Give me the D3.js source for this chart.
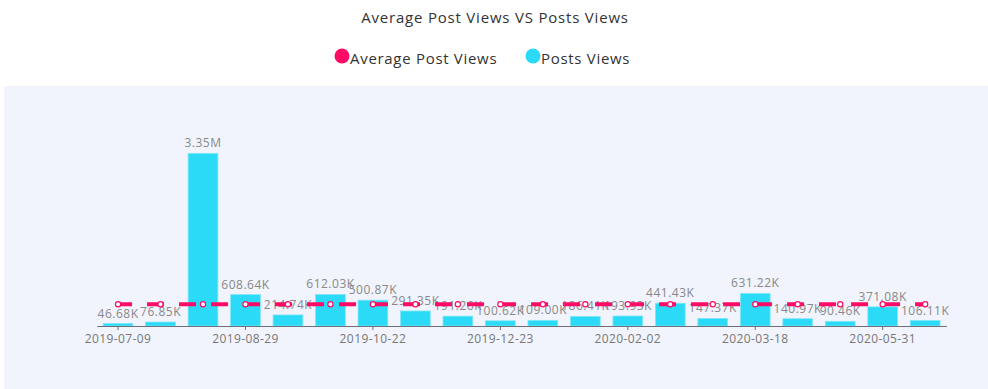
<!DOCTYPE html>
<html>
<head>
<meta charset="utf-8">
<script src="https://cdn.jsdelivr.net/npm/d3@7"></script>
<style>
html,body{margin:0;padding:0;background:#fff;}
svg{display:block;font-family:"Open Sans", Lato, sans-serif;}
</style>
</head>
<body>
<svg id="chart" width="988" height="389"></svg>
<script>
const categories = ["2019-07-09","2019-07-26","2019-08-12","2019-08-29","2019-09-16","2019-10-04","2019-10-22","2019-11-11","2019-12-02","2019-12-23","2020-01-06","2020-01-20","2020-02-02","2020-02-17","2020-03-03","2020-03-18","2020-04-11","2020-05-06","2020-05-31","2020-06-20"];
const postsViews = [46680,76850,3350000,608640,214740,612030,500870,291350,191260,100620,109000,186410,193930,441430,147370,631220,140970,90460,371080,106110];
const averageViews = [420550,420550,420550,420550,420550,420550,420550,420550,420550,420550,420550,420550,420550,420550,420550,420550,420550,420550,420550,420550];
const tickLabels = ["2019-07-09","2019-08-29","2019-10-22","2019-12-23","2020-02-02","2020-03-18","2020-05-31"];
const seriesNames = ["Average Post Views","Posts Views"];
const colors = ["#ff0a64","#2bdaf6"];

const svg = d3.select("#chart");
const W = 988, H = 389;
const FONT = "'Open Sans', Lato, sans-serif";

// panel background
svg.append("rect").attr("x",4).attr("y",86).attr("width",W-4).attr("height",H-86).attr("fill","#f1f4fc");

// title
svg.append("text").attr("x",495).attr("y",23).attr("text-anchor","middle")
  .attr("font-size",15).attr("letter-spacing","0.8px").attr("fill","#333").text("Average Post Views VS Posts Views");

// legend
const legendX = [342, 533];
seriesNames.forEach((n,i)=>{
  const g = svg.append("g");
  g.append("circle").attr("cx",legendX[i]).attr("cy",56).attr("r",7.5).attr("fill",colors[i]);
  g.append("text").attr("x",legendX[i]+8).attr("y",63.5).attr("font-size",15).attr("letter-spacing","0.7px").attr("fill","#333").text(n);
});

const x = d3.scaleBand().domain(categories).range([96.8, 946.4]).paddingInner(0.3).paddingOuter(0.15);
const y = d3.scaleLinear().domain([0, 3500000]).range([326, 145.6]);

// bars
svg.append("g").selectAll("rect").data(postsViews).join("rect")
  .attr("x",(d,i)=>x(categories[i]))
  .attr("y",d=>y(d))
  .attr("width",x.bandwidth())
  .attr("height",d=>y(0)-y(d))
  .attr("fill",colors[1])
  .attr("stroke","#7fe6f8").attr("stroke-width",0.8);

// bar labels
const fmt = v => v>=1e6 ? (v/1e6).toFixed(2)+"M" : (v/1e3).toFixed(2)+"K";
svg.append("g").selectAll("text").data(postsViews).join("text")
  .attr("x",(d,i)=>x(categories[i])+x.bandwidth()/2)
  .attr("y",d=>y(d)-6)
  .attr("text-anchor","middle").attr("font-size",12).attr("letter-spacing","0.5px").attr("fill","#888")
  .text(d=>fmt(d));

// axis
const axis = d3.axisBottom(x).tickValues(tickLabels).tickSize(4).tickSizeOuter(0);
const ax = svg.append("g").attr("transform","translate(0,326)").call(axis);
ax.select(".domain").attr("stroke","#6e7079");
ax.selectAll(".tick line").attr("stroke","#6e7079");
ax.selectAll(".tick text").attr("fill","#777").attr("font-size",12).attr("letter-spacing","0.4px").attr("dy","0.85em").attr("font-family",FONT);

// average line
const cx = (d,i)=>x(categories[i])+x.bandwidth()/2;
const line = d3.line().x(cx).y(d=>y(d));
svg.append("path").datum(averageViews).attr("d",line)
  .attr("fill","none").attr("stroke",colors[0]).attr("stroke-width",4)
  .attr("stroke-dasharray","17,15").attr("stroke-dashoffset",3);
svg.append("g").selectAll("circle").data(averageViews).join("circle")
  .attr("cx",cx).attr("cy",d=>y(d)).attr("r",2.6)
  .attr("fill","#fff").attr("stroke",colors[0]).attr("stroke-width",1.2);
</script>
</body>
</html>
